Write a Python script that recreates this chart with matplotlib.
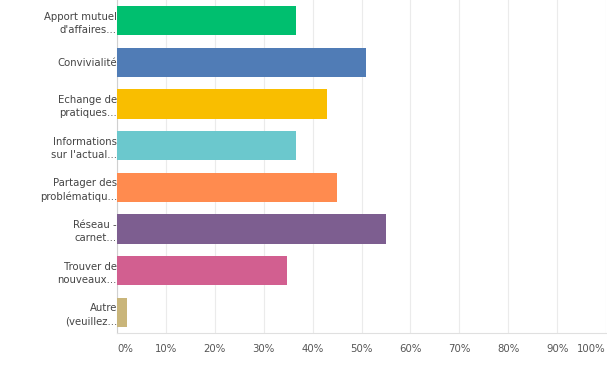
import numpy as np
import matplotlib
matplotlib.use("Agg")
import matplotlib.pyplot as plt

# survey answers (share of respondents, %)
categories = ["Apport mutuel\nd'affaires...", "Convivialité", "Echange de\npratiques...",
              "Informations\nsur l'actual...", "Partager des\nproblématiqu...", "Réseau -\ncarnet...",
              "Trouver de\nnouveaux...", "Autre\n(veuillez..."]
values = [36.7, 51.0, 42.9, 36.7, 44.9, 55.1, 34.7, 2.0]
bar_colors = ["#00BF6F", "#507CB6", "#F9BE00", "#6BC8CD", "#FF8B4F", "#7D5E90", "#D25F90", "#C9B57A"]
tick_vals = list(range(0, 101, 10))
tick_labels = [f"{t}%" for t in tick_vals]

plt.rcParams['font.family'] = ['DejaVu Sans']

fig = plt.figure(figsize=(6.07, 3.75), dpi=100)
ax = fig.add_axes([117 / 607, 1 - 333 / 375, 489 / 607, 333 / 375])

y = np.arange(len(categories))
ax.barh(y, values, height=0.7, color=bar_colors, zorder=3)
ax.set_ylim(len(categories) - 0.5, -0.5)
ax.set_xlim(0, 100)

ax.set_yticks(y)
ax.set_yticklabels(categories, fontsize=7.3, color="#444444", linespacing=1.4)
ax.tick_params(axis='y', length=0, pad=0)

ax.set_xticks(tick_vals)
ax.set_xticklabels(tick_labels, fontsize=7.3, color="#555555")
ax.tick_params(axis='x', length=0, pad=8)
lbls = ax.get_xticklabels()
lbls[0].set_ha('left')
lbls[-1].set_ha('right')

ax.grid(axis='x', color="#ebebeb", linewidth=0.8, zorder=0)
for s in ['top', 'right']:
    ax.spines[s].set_visible(False)
ax.spines['left'].set_color("#d0d0d0")
ax.spines['bottom'].set_color("#e0e0e0")

fig.savefig("out.png", dpi=100)
